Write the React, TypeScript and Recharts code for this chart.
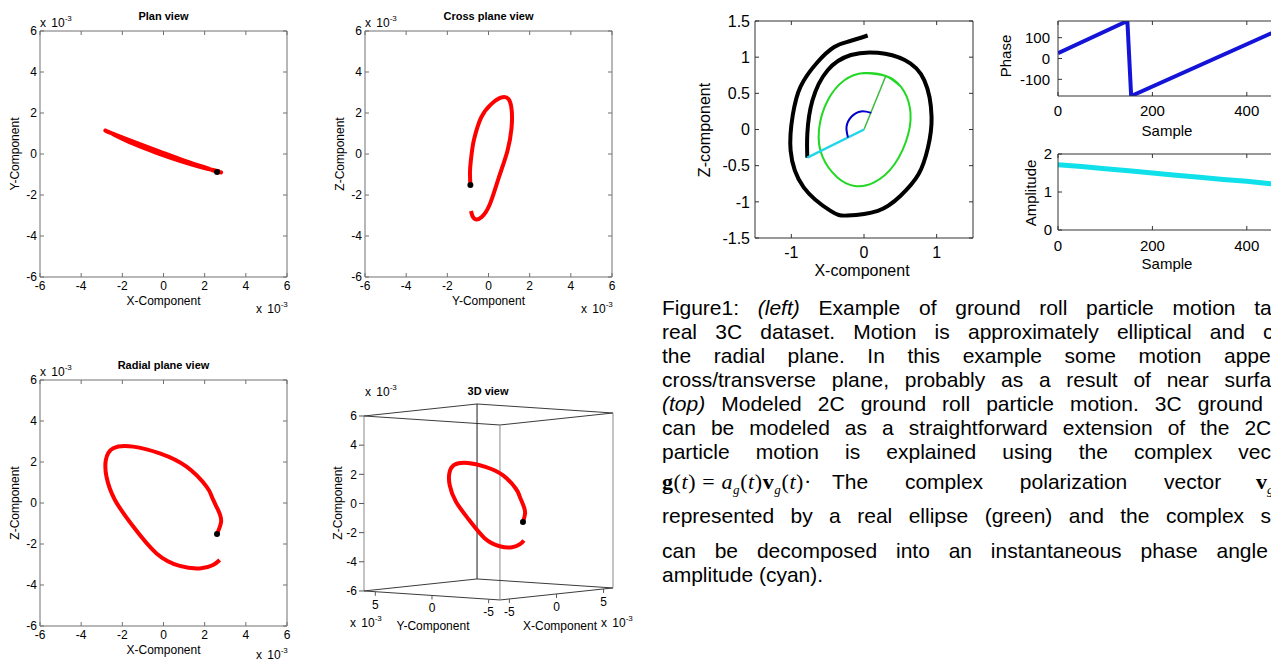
import React from 'react';
import { ComposedChart, Line, Scatter, XAxis, YAxis, ReferenceDot } from 'recharts';

const FONT = '"Liberation Sans", Arial, Helvetica, sans-serif';
const SERIF = '"Liberation Serif", "Times New Roman", serif';

// real 3C particle motion (units of 1e-3), sampled along the path
const trajX = [2.6, 2.8, 2.65, 2.35, 2.09, 1.12, -0.18, -1.47, -2.44, -2.8, -2.77, -2.36, -1.47, -0.34, 0.79, 1.76, 2.41, 2.73];
const trajY = [-0.88, -0.9, -0.86, -0.78, -0.68, -0.36, 0.12, 0.6, 0.98, 1.13, 1.12, 0.92, 0.5, 0.06, -0.33, -0.62, -0.78, -0.85];
const trajZ = [-1.51, -0.9, -0.34, 0.3, 0.8, 1.77, 2.42, 2.75, 2.67, 2.1, 1.28, 0.15, -1.15, -2.46, -3.07, -3.19, -3.02, -2.78];
const milliTicks = [-6, -4, -2, 0, 2, 4, 6];
const milliDomain: [number, number] = [-6, 6];

// 3D box
const boxLim = [-6, 6];
const sideTicks = [-5, 0, 5];

// modeled 2C ground roll
const spiralX = [0.05, -0.2, -0.41, -0.65, -0.875, -0.98, -1.01, -0.83, -0.46, -0.23, 0.19, 0.5, 0.75, 0.88, 0.93, 0.83, 0.56, 0.19, -0.18, -0.5, -0.71, -0.78, -0.78];
const spiralZ = [1.3, 1.22, 1.14, 0.92, 0.59, 0.2, -0.29, -0.8, -1.125, -1.19, -1.125, -0.92, -0.62, -0.25, 0.17, 0.68, 0.96, 1.06, 1.03, 0.82, 0.4, -0.06, -0.39];
const ellipseX = [0.3, 0.0, -0.27, -0.5, -0.62, -0.57, -0.37, -0.13, 0.14, 0.42, 0.61, 0.63, 0.51];
const ellipseZ = [0.74, 0.78, 0.68, 0.4, -0.01, -0.38, -0.66, -0.78, -0.73, -0.48, -0.06, 0.31, 0.59];
const arcX = [0.1, -0.04, -0.17, -0.24, -0.22];
const arcZ = [0.23, 0.25, 0.18, 0.04, -0.11];
const greenVecX = [0, 0.3];
const greenVecZ = [0, 0.74];
const cyanVecX = [0, -0.78];
const cyanVecZ = [0, -0.39];
const modelTicksX = [-1, 0, 1];
const modelTicksZ = [-1.5, -1, -0.5, 0, 0.5, 1, 1.5];

// instantaneous phase and amplitude
const phaseSample = [0, 147, 155, 500];
const phaseDeg = [25, 180, -180, 170];
const ampSample = [0, 50, 100, 150, 200, 250, 300, 350, 400, 450, 500];
const ampValue = [1.72, 1.67, 1.61, 1.56, 1.5, 1.44, 1.39, 1.33, 1.28, 1.22, 1.16];
const sampleTicks = [0, 200, 400];
const phaseTicks = [-100, 0, 100];
const ampTicks = [0, 1, 2];

const pts = (xs: number[], ys: number[]) => xs.map((x, i) => ({ x, y: ys[i] }));
// closed loop: pad with the neighbours so the spline has no kink where it closes
const loop = (xs: number[], ys: number[]) => {
  const p = pts(xs, ys);
  return [p[p.length - 1], ...p, p[0], p[1]];
};

const ML = 70, MT = 12, MR = 12, MB = 40;

interface FrameProps {
  left: number; top: number; w: number; h: number;
  xDomain: [number, number]; yDomain: [number, number];
  xTicks: number[]; yTicks: number[];
  fontSize: number; axisColor: string; xTm: number; yTm: number;
  children?: React.ReactNode;
}

// matlab-like box axes, ticks pointing in on all four sides
const Frame = ({ left, top, w, h, xDomain, yDomain, xTicks, yTicks, fontSize, axisColor, xTm, yTm, children }: FrameProps) => {
  const tick = { fill: '#000', fontSize };
  const blank = () => '';
  return (
    <div style={{ position: 'absolute', left: left - ML, top: top - MT }}>
      <ComposedChart width={w + ML + MR} height={h + MT + MB} margin={{ top: MT - 1, right: MR - 1, bottom: 0, left: 0 }}>
        <XAxis xAxisId={0} type="number" dataKey="x" domain={xDomain} ticks={xTicks} interval={0} allowDataOverflow height={MB} stroke={axisColor} tick={tick} tickSize={-4} tickMargin={xTm} />
        <XAxis xAxisId="top" orientation="top" type="number" dataKey="x" domain={xDomain} ticks={xTicks} interval={0} allowDataOverflow height={1} stroke={axisColor} tickSize={-4} tickFormatter={blank} />
        <YAxis yAxisId={0} type="number" domain={yDomain} ticks={yTicks} interval={0} allowDataOverflow width={ML} stroke={axisColor} tick={tick} tickSize={-4} tickMargin={yTm} />
        <YAxis yAxisId="right" orientation="right" type="number" domain={yDomain} ticks={yTicks} interval={0} allowDataOverflow width={1} stroke={axisColor} tickSize={-4} tickFormatter={blank} />
        {children}
      </ComposedChart>
    </div>
  );
};

const Txt = ({ x, y, size, bold, vertical, children }: { x: number; y: number; size: number; bold?: boolean; vertical?: boolean; children: React.ReactNode }) => (
  <div style={{ position: 'absolute', left: x, top: y, transform: `translate(-50%, -50%)${vertical ? ' rotate(-90deg)' : ''}`, fontSize: size, fontWeight: bold ? 700 : 400, whiteSpace: 'nowrap', lineHeight: 1 }}>
    {children}
  </div>
);

const Exp = ({ x, y }: { x: number; y: number }) => (
  <div style={{ position: 'absolute', left: x, top: y, transform: 'translateY(-50%)', fontSize: 12, lineHeight: 1, whiteSpace: 'nowrap', wordSpacing: 2 }}>
    x 10<span style={{ fontSize: 8, position: 'relative', top: -6 }}>-3</span>
  </div>
);

const redPath = (xs: number[], ys: number[]) => (
  <Line data={pts(xs, ys)} dataKey="y" type="natural" stroke="#ff0000" strokeWidth={4} dot={false} isAnimationActive={false} />
);

const Motion2D = ({ left, top, xs, ys, title, xLabel, yLabel, expDy = 32 }: { left: number; top: number; xs: number[]; ys: number[]; title: string; xLabel: string; yLabel: string; expDy?: number }) => {
  const w = 247, h = 246, cx = left + w / 2;
  return (
    <>
      <Frame left={left} top={top} w={w} h={h} xDomain={milliDomain} yDomain={milliDomain} xTicks={milliTicks} yTicks={milliTicks} fontSize={12} axisColor="#707070" xTm={8} yTm={7}>
        {redPath(xs, ys)}
        <ReferenceDot x={xs[0]} y={ys[0]} r={3} fill="#000" stroke="none" />
      </Frame>
      <Txt x={cx} y={top - 15} size={11} bold>{title}</Txt>
      <Txt x={cx} y={top + h + 24} size={12}>{xLabel}</Txt>
      <Txt x={left - 25} y={top + h / 2} size={12} vertical>{yLabel}</Txt>
      <Exp x={left} y={top - 8} />
      <Exp x={left + w - 31} y={top + h + expDy} />
    </>
  );
};

// 3D view: fixed oblique view of the [-6,6]^3 box (screen px per unit)
const VIEW = { ux: 9.42, uy: 11.33, vx: 1.0, vy: 0.75, zs: 14.58 };
const [lo, hi] = boxLim;
const proj = (X: number, Y: number, Z: number) => ({
  x: VIEW.ux * (X - lo) + VIEW.uy * (hi - Y),
  y: Z + (VIEW.vx * (X - lo) + VIEW.vy * (Y - hi)) / VIEW.zs,
});
const U_MAX = proj(hi, lo, 0).x;
const V_MIN = proj(lo, lo, lo).y;
const V_MAX = proj(hi, hi, hi).y;

const View3D = ({ left, zTop }: { left: number; zTop: number }) => {
  const plotTop = zTop - (V_MAX - hi) * VIEW.zs;
  const h = (V_MAX - V_MIN) * VIEW.zs;
  const ring: [number, number][] = [[lo, hi], [lo, lo], [hi, lo], [hi, hi]];
  const edges: { data: { x: number; y: number }[]; color: string }[] = [];
  ring.forEach(([X, Y], i) => {
    const [X2, Y2] = ring[(i + 1) % 4];
    boxLim.forEach((Z) => edges.push({ data: [proj(X, Y, Z), proj(X2, Y2, Z)], color: '#3a3a3a' }));
    edges.push({ data: [proj(X, Y, lo), proj(X, Y, hi)], color: X === hi && Y === hi ? '#1a1a1a' : '#8a8a8a' });
  });
  const curve = trajX.map((x, i) => proj(x, trajY[i], trajZ[i]));
  const marks = [
    ...sideTicks.map((t) => ({ ...proj(lo, t, lo), label: String(t) })),
    ...sideTicks.map((t) => ({ ...proj(t, lo, lo), label: String(t) })),
  ];
  const TickMark = (p: any) => (
    <g>
      <line x1={p.cx} y1={p.cy} x2={p.cx} y2={p.cy + 4} stroke="#555" />
      <text x={p.cx} y={p.cy + 17} textAnchor="middle" fontSize={12} fill="#000">{p.payload.label}</text>
    </g>
  );
  return (
    <div style={{ position: 'absolute', left: left - 60, top: plotTop - 10 }}>
      <ComposedChart width={60 + U_MAX + 10} height={h + 40} margin={{ top: 10, right: 10, bottom: 30, left: 0 }}>
        <XAxis type="number" dataKey="x" domain={[0, U_MAX]} hide />
        <YAxis type="number" domain={[V_MIN, V_MAX]} ticks={milliTicks} interval={0} width={60} axisLine={false} stroke="#555" tick={{ fill: '#000', fontSize: 12 }} tickSize={5} tickMargin={2} />
        {edges.map((e, i) => (
          <Line key={i} data={e.data} dataKey="y" stroke={e.color} strokeWidth={1} dot={false} isAnimationActive={false} />
        ))}
        <Line data={curve} dataKey="y" type="natural" stroke="#ff0000" strokeWidth={4} dot={false} isAnimationActive={false} />
        <ReferenceDot x={curve[0].x} y={curve[0].y} r={3} fill="#000" stroke="none" />
        <Scatter data={marks} dataKey="y" shape={TickMark} isAnimationActive={false} />
      </ComposedChart>
    </div>
  );
};

const Cap = ({ base, ws, left = 662, children }: { base: number; ws: number; left?: number; children: React.ReactNode }) => (
  <div style={{ position: 'absolute', left, top: base - 19.3, fontSize: 21, lineHeight: '24px', whiteSpace: 'nowrap', wordSpacing: ws }}>
    {children}
  </div>
);

const sub = { fontSize: 13, position: 'relative' as const, top: 5, fontStyle: 'italic' as const };

export default function App() {
  return (
    <div style={{ position: 'absolute', left: 0, top: 0, width: 1271, height: 662, overflow: 'hidden', background: '#fff', fontFamily: FONT, color: '#000' }}>
      <Motion2D left={40} top={31} xs={trajX} ys={trajY} title="Plan view" xLabel="X-Component" yLabel="Y-Component" />
      <Motion2D left={365} top={31} xs={trajY} ys={trajZ} title="Cross plane view" xLabel="Y-Component" yLabel="Z-Component" />
      <Motion2D left={40} top={380} xs={trajX} ys={trajZ} title="Radial plane view" xLabel="X-Component" yLabel="Z-Component" expDy={29} />

      <View3D left={364} zTop={416} />
      <Txt x={488} y={391} size={11} bold>3D view</Txt>
      <Exp x={365} y={392} />
      <Exp x={350} y={623} />
      <Exp x={601} y={623} />
      <Txt x={433} y={626} size={12}>Y-Component</Txt>
      <Txt x={560} y={626} size={12}>X-Component</Txt>
      <Txt x={338} y={503} size={12} vertical>Z-Component</Txt>

      <Frame left={755} top={21} w={218} h={217} xDomain={[-1.5, 1.5]} yDomain={[-1.5, 1.5]} xTicks={modelTicksX} yTicks={modelTicksZ} fontSize={16} axisColor="#333" xTm={13} yTm={9}>
        <Line data={pts(spiralX, spiralZ)} dataKey="y" type="natural" stroke="#000" strokeWidth={4} dot={false} isAnimationActive={false} />
        <Line data={loop(ellipseX, ellipseZ)} dataKey="y" type="natural" stroke="#22d822" strokeWidth={2} dot={false} isAnimationActive={false} />
        <Line data={pts(greenVecX, greenVecZ)} dataKey="y" stroke="#3cb83c" strokeWidth={1.5} dot={false} isAnimationActive={false} />
        <Line data={pts(cyanVecX, cyanVecZ)} dataKey="y" stroke="#22d6e8" strokeWidth={2.5} dot={false} isAnimationActive={false} />
        <Line data={pts(arcX, arcZ)} dataKey="y" type="natural" stroke="#0000cc" strokeWidth={2} dot={false} isAnimationActive={false} />
      </Frame>
      <Txt x={862} y={271} size={16}>X-component</Txt>
      <Txt x={705} y={130} size={16} vertical>Z-component</Txt>

      <Frame left={1058} top={21} w={236} h={75} xDomain={[0, 500]} yDomain={[-180, 180]} xTicks={sampleTicks} yTicks={phaseTicks} fontSize={15} axisColor="#333" xTm={13} yTm={12}>
        <Line data={pts(phaseSample, phaseDeg)} dataKey="y" stroke="#1414d8" strokeWidth={4} dot={false} isAnimationActive={false} />
      </Frame>
      <Txt x={1167} y={130} size={15}>Sample</Txt>
      <Txt x={1005} y={56} size={15} vertical>Phase</Txt>

      <Frame left={1058} top={154} w={236} h={76} xDomain={[0, 500]} yDomain={[0, 2]} xTicks={sampleTicks} yTicks={ampTicks} fontSize={15} axisColor="#333" xTm={14} yTm={10}>
        <Line data={pts(ampSample, ampValue)} dataKey="y" stroke="#10e0ea" strokeWidth={5} dot={false} isAnimationActive={false} />
      </Frame>
      <Txt x={1167} y={263} size={15}>Sample</Txt>
      <Txt x={1030} y={193} size={15} vertical>Amplitude</Txt>

      <Cap base={315} ws={12.9}>Figure1: <i>(left)</i> Example of ground roll particle motion taken from a</Cap>
      <Cap base={339} ws={12.4}>real 3C dataset. Motion is approximately elliptical and confined to</Cap>
      <Cap base={363} ws={16.7}>the radial plane. In this example some motion appears in the</Cap>
      <Cap base={387} ws={9.9}>cross/transverse plane, probably as a result of near surface</Cap>
      <Cap base={411} ws={10.2}><i>(top)</i> Modeled 2C ground roll particle motion. 3C ground roll</Cap>
      <Cap base={435} ws={9.2}>can be modeled as a straightforward extension of the 2C model. The</Cap>
      <Cap base={459} ws={20.3}>particle motion is explained using the complex vector</Cap>
      <Cap base={489} ws={0}>
        <span style={{ fontFamily: SERIF, fontSize: 22, letterSpacing: 0.6 }}>
          <b>g</b>(<i>t</i>) = <i>a</i><span style={sub}>g</span>(<i>t</i>)<b>v</b><span style={sub}>g</span>(<i>t</i>)·
        </span>
      </Cap>
      <Cap base={489} ws={30.9} left={832}>The complex polarization vector</Cap>
      <Cap base={489} ws={0} left={1256}>
        <span style={{ fontFamily: SERIF, fontSize: 22 }}><b>v</b><span style={sub}>g</span>(<i>t</i>) is</span>
      </Cap>
      <Cap base={523} ws={10.6}>represented by a real ellipse (green) and the complex scalar</Cap>
      <Cap base={558} ws={13}>can be decomposed into an instantaneous phase angle (blue) and</Cap>
      <Cap base={582} ws={0}>amplitude (cyan).</Cap>
    </div>
  );
}
